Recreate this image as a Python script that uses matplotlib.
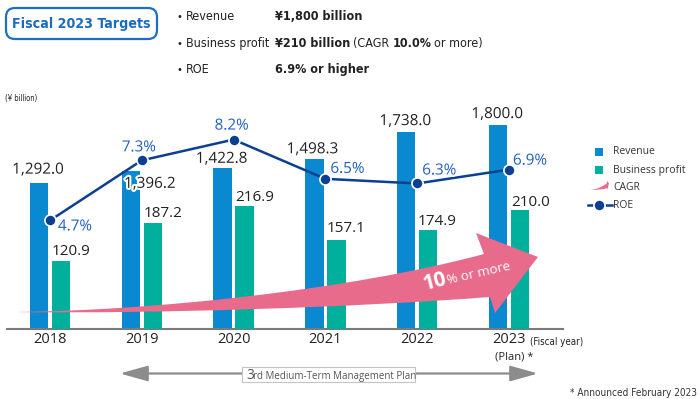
import os
import matplotlib
matplotlib.use("Agg")
import matplotlib.pyplot as plt
from matplotlib import font_manager, patheffects
from matplotlib.font_manager import FontProperties
from matplotlib.patches import FancyBboxPatch, FancyArrowPatch, PathPatch, Rectangle
from matplotlib.lines import Line2D
from matplotlib.path import Path
from matplotlib.text import Annotation
from matplotlib.transforms import Affine2D

years = ["2018", "2019", "2020", "2021", "2022", "2023"]
revenue = [1292.0, 1396.2, 1422.8, 1498.3, 1738.0, 1800.0]
profit = [120.9, 187.2, 216.9, 157.1, 174.9, 210.0]
roe = [4.7, 7.3, 8.2, 6.5, 6.3, 6.9]

# label nudges in pixels: (dx, baseline above bar top / marker)
rev_off = [(-1, 9), (19, -17), (-1, 5), (-2, 6), (-1, 7), (-1, 7)]
prof_off = [(10, 6), (10, 6), (10, 5), (10, 8), (9, 5), (11, 4)]
roe_off = [(25, -10), (-3, 9), (-2, 10), (22, 6), (22, 9), (21, 5)]

BLUE = "#0a88d0"
TEAL = "#00b09c"
NAVY = "#0b3f92"
ROE_TXT = "#2060c0"
PINK = "#e86b8c"
GRAY = "#8c8c8c"
DARK = "#222222"

installed = {f.name for f in font_manager.fontManager.ttflist}


def pick(*names):
    for n in names:
        if n in installed:
            return n
    return "DejaVu Sans"


def find_condensed(bold):
    # look for a narrow sans face on disk (Liberation Narrow, Noto/DejaVu Condensed)
    prefs = ["liberationsansnarrow", "notosans-condensed", "dejavusanscondensed",
             "opensans-condensed", "opensans_condensed"]
    found = []
    for f in font_manager.fontManager.ttflist:
        fn = os.path.basename(f.fname).lower()
        if not ("narrow" in fn or "condensed" in fn):
            continue
        if any(k in fn for k in ("semi", "extra", "ultra", "italic", "oblique", "light",
                                 "thin", "black", "medium", "serif", "mono", "display")):
            continue
        if ("bold" in fn) != bold:
            continue
        rank = next((i for i, p in enumerate(prefs) if fn.startswith(p)), len(prefs))
        found.append((rank, f.fname))
    return sorted(found)[0][1] if found else None


MAIN = pick("Open Sans", "Lato", "DejaVu Sans")
reg_file, bold_file = find_condensed(False), find_condensed(True)
if reg_file and bold_file:
    NREG, NBOLD = FontProperties(fname=reg_file), FontProperties(fname=bold_file)
    top_size = 9.0
else:
    NREG = FontProperties(family=pick("Liberation Sans", "DejaVu Sans"))
    NBOLD = FontProperties(family=pick("Liberation Sans", "DejaVu Sans"), weight="bold")
    top_size = 8.6
plt.rcParams["font.family"] = MAIN

W, H = 700, 399
fig = plt.figure(figsize=(W / 100, H / 100), dpi=100)
# pixel coords, origin top-left
px = Affine2D().scale(1 / W, -1 / H).translate(0, 1) + fig.transFigure

left, right, base, top = 7, 563, 329, 100
ax = fig.add_axes([left / W, (H - base) / H, (right - left) / W, (base - top) / H])
ax2 = ax.twinx()
ax3 = ax.twinx()

x = list(range(len(years)))
bw = 0.2
ax.bar([i - 0.12 for i in x], revenue, width=bw, color=BLUE, zorder=2)
ax2.bar([i + 0.12 for i in x], profit, width=bw, color=TEAL, zorder=2)
ax3.plot(x, roe, color=NAVY, lw=1.8, marker="o", ms=8, mfc=NAVY, mec="white",
         mew=1.2, zorder=3)

ax.set_xlim(-0.468, 5.588)
ax.set_ylim(0, (base - top) / 0.1133)
ax2.set_ylim(0, (base - top) / 0.566)
ax3.set_ylim(0, (base - top) / 23.1)

for a in (ax, ax2, ax3):
    for s in a.spines.values():
        s.set_visible(False)
    a.set_yticks([])
ax.spines["bottom"].set_visible(True)
ax.spines["bottom"].set_color("#7a7a7a")
ax.spines["bottom"].set_linewidth(1.5)
ax.set_xticks(x, years)
ax.tick_params(axis="x", length=0, pad=2, labelsize=10.5, labelcolor=DARK)

halo = [patheffects.withStroke(linewidth=3, foreground="white")]
for i, v in enumerate(revenue):
    dx, dy = rev_off[i]
    ax.annotate(f"{v:,.1f}", (i - 0.12, v), xytext=(dx, dy), textcoords="offset pixels",
                ha="center", va="baseline", fontsize=11, color=DARK, path_effects=halo)
for i, v in enumerate(profit):
    dx, dy = prof_off[i]
    ax2.annotate(f"{v:,.1f}", (i + 0.12, v), xytext=(dx, dy), textcoords="offset pixels",
                 ha="center", va="baseline", fontsize=11, color=DARK)
for i, v in enumerate(roe):
    dx, dy = roe_off[i]
    ax3.annotate(f"{v}%", (i, v), xytext=(dx, dy), textcoords="offset pixels",
                 ha="center", va="baseline", fontsize=11, color=ROE_TXT, path_effects=halo,
                 zorder=4)

# CAGR arrow
M, C, L = Path.MOVETO, Path.CURVE4, Path.LINETO
verts = [(12, 312), (160, 314), (360, 307), (490, 297),
         (495, 313), (538, 257), (476, 233), (484, 254),
         (350, 290), (150, 311), (12, 312), (12, 312)]
codes = [M, C, C, C, L, L, L, L, C, C, C, Path.CLOSEPOLY]
cagr_path = Path(verts, codes)
fig.add_artist(PathPatch(cagr_path, transform=px, fc=PINK, ec="none", zorder=1))
fig.text(425, 290, "10", transform=px, ha="left", va="baseline", rotation=14,
         rotation_mode="anchor", fontsize=15, fontweight="bold", color="white", zorder=2)
fig.text(448, 284, "% or more", transform=px, ha="left", va="baseline", rotation=13,
         rotation_mode="anchor", fontsize=9.5, color="white", zorder=2)

# year suffixes and notes
fig.text(530, 342, "(Fiscal year)", transform=px, ha="left", va="center",
         fontproperties=NREG, fontsize=7, color=DARK)
fig.text(514, 357, "(Plan) *", transform=px, ha="center", va="center", fontsize=8,
         color=DARK)
fig.text(5, 98, "(¥ billion)", transform=px, ha="left", va="center",
         fontproperties=NREG, fontsize=5.5, color=DARK)
fig.text(697, 396, "* Announced February 2023", transform=px, ha="right", va="baseline",
         fontproperties=NREG, fontsize=7.2, color="#333333")

# header box
fig.add_artist(FancyBboxPatch((6, 8), 151, 31, boxstyle="round,pad=0,rounding_size=9",
                              transform=px, fc="white", ec="#1f6fc0", lw=1.6))
fig.text(81, 24, "Fiscal 2023 Targets", transform=px, ha="center", va="center",
         fontproperties=NBOLD, fontsize=10.2, color="#1a6cc0")


def chain(prev, s, bold, gap=3.0):
    t = Annotation(s, xy=(1, 0), xycoords=prev, xytext=(gap, 0), textcoords="offset pixels",
                   ha="left", va="bottom", fontproperties=NBOLD if bold else NREG,
                   fontsize=top_size, color=DARK)
    fig.add_artist(t)
    return t


targets = [("Revenue", [("¥1,800 billion", True)], 20),
           ("Business profit", [("¥210 billion", True), ("(CAGR", False), ("10.0%", True),
                                ("or more)", False)], 47),
           ("ROE", [("6.9% or higher", True)], 73)]
for name, parts, yb in targets:
    fig.text(176, yb, "•", transform=px, ha="left", va="baseline", fontproperties=NREG,
             fontsize=top_size - 1, color=DARK)
    fig.text(186, yb, name, transform=px, ha="left", va="baseline", fontproperties=NREG,
             fontsize=top_size, color=DARK)
    prev = fig.text(275, yb, parts[0][0], transform=px, ha="left", va="baseline",
                    fontproperties=NBOLD, fontsize=top_size, color=DARK)
    for s, b in parts[1:]:
        prev = chain(prev, s, b)

# legend
fig.add_artist(Rectangle((595, 148), 8, 8, transform=px, fc=BLUE, ec="none"))
fig.add_artist(Rectangle((595, 166), 8, 8, transform=px, fc=TEAL, ec="none"))
mini = Affine2D().translate(-12, -312).scale(0.036, 0.12).translate(590, 190) + px
fig.add_artist(PathPatch(cagr_path, transform=mini, fc=PINK, ec="none"))
fig.add_artist(Line2D([588, 612], [205, 205], transform=px, color=NAVY, lw=1.8))
fig.add_artist(Line2D([599], [205], transform=px, color=NAVY, marker="o", ms=8,
                      mfc=NAVY, mec="white", mew=1.2))
for label, yc in [("Revenue", 152), ("Business profit", 170), ("CAGR", 188), ("ROE", 205)]:
    fig.text(613, yc, label, transform=px, ha="left", va="center", fontsize=7.5,
             color="#333333")

# medium-term plan arrow
fig.add_artist(FancyArrowPatch((120, 373.5), (538, 373.5), transform=px,
                               arrowstyle="<|-|>,head_length=1.0,head_width=0.28",
                               mutation_scale=17, color=GRAY, lw=1.6,
                               shrinkA=0, shrinkB=0))
fig.add_artist(Rectangle((242, 367), 173, 15, transform=px, fc="white", ec="#c4c4c4",
                         lw=0.8, zorder=3))
fig.text(246, 379, "3", transform=px, ha="left", va="baseline", fontsize=10,
         color="#555555", zorder=4)
fig.text(253, 379, "rd Medium-Term Management Plan", transform=px, ha="left",
         va="baseline", fontsize=7, color="#555555", zorder=4)

fig.savefig("out.png", dpi=100)
